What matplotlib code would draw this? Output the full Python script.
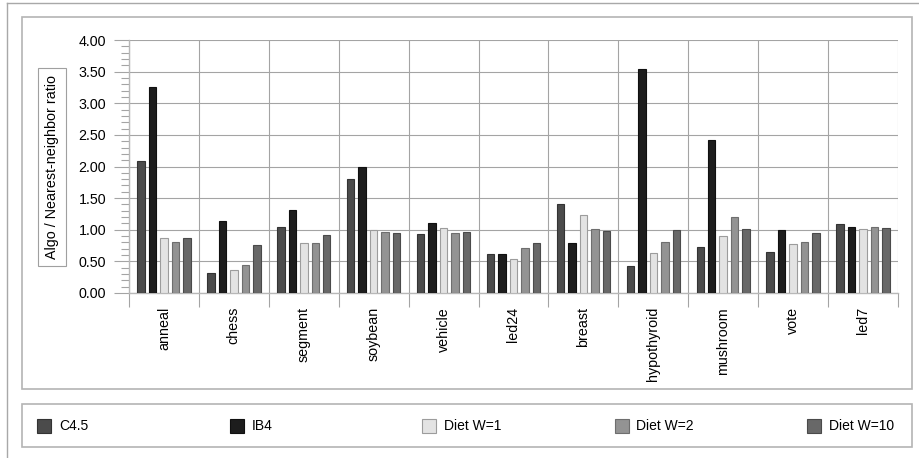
import numpy as np
import matplotlib.pyplot as plt
from matplotlib.patches import Rectangle
from matplotlib.lines import Line2D
from matplotlib.ticker import MultipleLocator

plt.rcParams['font.family'] = ['Liberation Sans', 'DejaVu Sans']

datasets = ['anneal', 'chess', 'segment', 'soybean', 'vehicle', 'led24',
            'breast', 'hypothyroid', 'mushroom', 'vote', 'led7']
series = ['C4.5', 'IB4', 'Diet W=1', 'Diet W=2', 'Diet W=10']

c45 = [2.08, 0.32, 1.04, 1.80, 0.94, 0.62, 1.41, 0.42, 0.73, 0.65, 1.09]
ib4 = [3.26, 1.14, 1.32, 2.00, 1.10, 0.62, 0.79, 3.54, 2.42, 1.00, 1.05]
diet_w1 = [0.87, 0.36, 0.79, 1.00, 1.03, 0.54, 1.23, 0.63, 0.90, 0.78, 1.01]
diet_w2 = [0.81, 0.44, 0.79, 0.97, 0.95, 0.71, 1.01, 0.81, 1.20, 0.81, 1.04]
diet_w10 = [0.87, 0.76, 0.91, 0.95, 0.96, 0.79, 0.98, 0.99, 1.01, 0.95, 1.03]
values = [c45, ib4, diet_w1, diet_w2, diet_w10]

fills = ['#4b4b4b', '#1d1d1d', '#e3e3e3', '#939393', '#686868']
edges = ['#333333', '#101010', '#9c9c9c', '#6e6e6e', '#4a4a4a']
grid_c = '#a4a4a4'

W, H = 919, 458
fig = plt.figure(figsize=(W / 100, H / 100), dpi=100)

# background layer in pixel coordinates for the frames
bg = fig.add_axes([0, 0, 1, 1], zorder=0)
bg.set_xlim(0, W)
bg.set_ylim(H, 0)
bg.axis('off')
bg.plot([7, W], [3, 3], color='#a8a8a8', lw=1.0)
bg.plot([7, 7], [3, H], color='#a8a8a8', lw=1.0)
bg.add_patch(Rectangle((22, 17), 890, 372, fill=False, ec='#b4b4b4', lw=1.2))
bg.add_patch(Rectangle((22, 404), 890, 43, fill=False, ec='#b4b4b4', lw=1.2))

# legend entries
for i, name in enumerate(series):
    x0 = 37 + i * 192.5
    bg.add_patch(Rectangle((x0, 419), 14, 14, fc=fills[i], ec=edges[i], lw=0.8))
    bg.text(x0 + 22, 426.5, name, fontsize=10, va='center', ha='left')

# main chart
x0, y0, x1, y1 = 129, 40, 898, 293
ax = fig.add_axes([x0 / W, 1 - y1 / H, (x1 - x0) / W, (y1 - y0) / H], zorder=1)
ax.patch.set_alpha(0)

n = len(datasets)
idx = np.arange(n)
pitch = 11.5 / 70
width = 7.5 / 70
for k, vals in enumerate(values):
    ax.bar(idx + 0.5 + (k - 2) * pitch, vals, width=width, color=fills[k],
           edgecolor=edges[k], linewidth=0.8, zorder=3, label=series[k])

ax.set_xlim(0, n)
ax.set_ylim(0, 4)
ax.yaxis.set_major_locator(MultipleLocator(0.5))
ax.yaxis.set_minor_locator(MultipleLocator(0.1))
ax.set_yticklabels(['%.2f' % v for v in ax.get_yticks()])
ax.set_xticks(np.arange(n + 1))
ax.set_xticklabels([])
ax.set_xticks(idx + 0.5, minor=True)
ax.set_xticklabels(datasets, minor=True, rotation=90, fontsize=10.3)

ax.grid(True, which='major', color=grid_c, lw=0.8, zorder=0)
ax.tick_params(axis='y', which='major', length=11, color=grid_c, width=0.8,
               labelsize=10.3, pad=5.5)
ax.tick_params(axis='y', which='minor', length=6, color=grid_c, width=0.8)
ax.tick_params(axis='x', which='major', length=10, color=grid_c, width=0.8)
ax.tick_params(axis='x', which='minor', length=0, pad=10)
for side in ['top', 'right']:
    ax.spines[side].set_visible(False)
for side in ['left', 'bottom']:
    ax.spines[side].set_color('#b8b8b8')
    ax.spines[side].set_linewidth(1.0)

# boxed y-axis title
bg.text(52, 167, 'Algo / Nearest-neighbor ratio', rotation=90, fontsize=10.3,
        ha='center', va='center',
        bbox=dict(boxstyle='square,pad=0.5', fc='white', ec='#a0a0a0', lw=0.8))

fig.savefig('out.png', dpi=100)
